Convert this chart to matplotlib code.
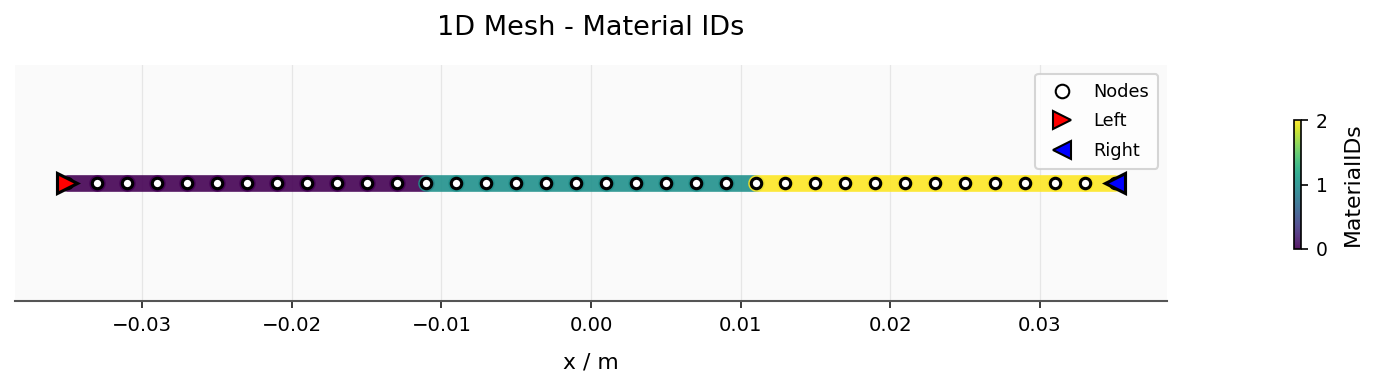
import numpy as np
import matplotlib as mpl
mpl.use('Agg')
import matplotlib.pyplot as plt
from matplotlib.collections import LineCollection
from matplotlib.lines import Line2D

# node coordinates of the 1D mesh (m)
node_x = [-0.035, -0.033, -0.031, -0.029, -0.027, -0.025, -0.023, -0.021, -0.019,
          -0.017, -0.015, -0.013, -0.011, -0.009, -0.007, -0.005, -0.003, -0.001,
          0.001, 0.003, 0.005, 0.007, 0.009, 0.011, 0.013, 0.015, 0.017, 0.019,
          0.021, 0.023, 0.025, 0.027, 0.029, 0.031, 0.033, 0.035]
# material id of each element (between two nodes)
material_ids = [0, 0, 0, 0, 0, 0, 0, 0, 0, 0, 0, 0,
                1, 1, 1, 1, 1, 1, 1, 1, 1, 1, 1,
                2, 2, 2, 2, 2, 2, 2, 2, 2, 2, 2, 2]
xticks = [-0.03, -0.02, -0.01, 0.00, 0.01, 0.02, 0.03]
cbar_ticks = [0, 1, 2]

W, H, DPI = 1381, 392, 150
fig = plt.figure(figsize=(W/DPI, H/DPI), dpi=DPI)
ax = fig.add_axes([15/W, 1-301/H, (1167-15)/W, (301-65)/H])
cax = fig.add_axes([1294/W, 1-249/H, 7/W, (249-120)/H])

ax.set_facecolor('#fafafa')
segs = [[(node_x[i], 0), (node_x[i+1], 0)] for i in range(len(node_x)-1)]
lc = LineCollection(segs, cmap='viridis', norm=mpl.colors.Normalize(0, 2),
                    linewidths=8, alpha=0.9, capstyle='round', zorder=2)
lc.set_array(np.array(material_ids))
ax.add_collection(lc)

y0 = np.zeros(len(node_x))
ax.plot(node_x, y0, 'o', ls='none', mfc='white', mec='black', ms=5, mew=1.5, zorder=3)
ax.plot([node_x[0]], [0], '>', ls='none', mfc='red', mec='black', ms=10, mew=1.5, zorder=4)
ax.plot([node_x[-1]], [0], '<', ls='none', mfc='blue', mec='black', ms=10, mew=1.5, zorder=4)

# legend proxies
handles = [Line2D([], [], ls='none', marker='o', mfc='white', mec='black', ms=6.5, mew=1),
           Line2D([], [], ls='none', marker='>', mfc='red', mec='black', ms=8.5, mew=1),
           Line2D([], [], ls='none', marker='<', mfc='blue', mec='black', ms=8.5, mew=1)]
ax.legend(handles, ['Nodes', 'Left', 'Right'], loc='upper right', fontsize=8.5,
          labelspacing=0.65, borderpad=0.5)

span = node_x[-1] - node_x[0]
ax.set_xlim(node_x[0] - 0.05*span, node_x[-1] + 0.05*span)
ax.set_ylim(-1, 1)
ax.set_xticks(xticks)
ax.set_yticks([])
ax.tick_params(axis='x', labelsize=9.5, length=3.5, width=0.9, color='#333333')
ax.grid(axis='x', color='#e6e6e6', lw=0.6, zorder=0)
ax.set_axisbelow(True)
for s in ['top', 'right', 'left']:
    ax.spines[s].set_visible(False)
ax.spines['bottom'].set_color('#555555')
ax.spines['bottom'].set_linewidth(1.0)

ax.set_title('1D Mesh - Material IDs', fontsize=13, pad=14.5)
ax.set_xlabel('x / m', fontsize=10.5, labelpad=8.5)

cb = fig.colorbar(lc, cax=cax, ticks=cbar_ticks)
cb.set_label('MaterialIDs', fontsize=10.5, labelpad=7.5)
cb.ax.tick_params(labelsize=9)

fig.savefig('out.png', dpi=DPI)
